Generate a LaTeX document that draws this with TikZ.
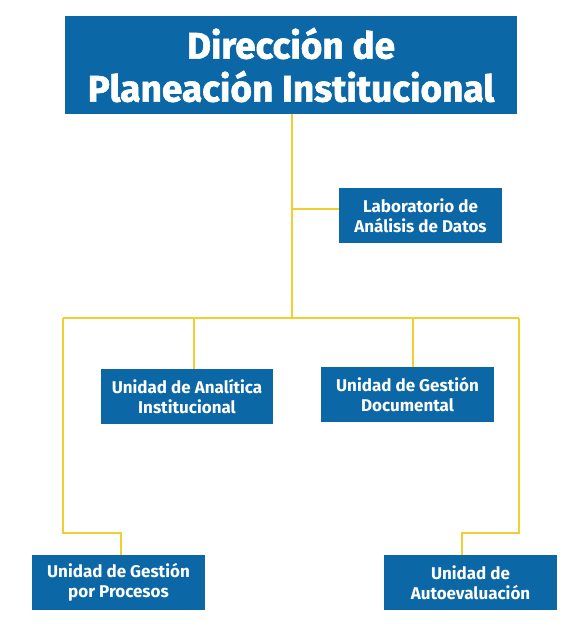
\documentclass[tikz,border=0pt]{standalone}
\usepackage{fontspec}
\setmainfont{Fira Sans}
\newfontfamily\headfont{Fira Sans}[BoldFeatures={FakeBold=1.6}]
\usepackage{tikz}
\definecolor{colB}{HTML}{0B67A5}
\definecolor{colY}{HTML}{F2CE2E}
\tikzstyle{unit}=[rectangle, fill=colB, text=white, font=\bfseries\fontsize{17}{20}\selectfont, align=center, inner sep=0pt, minimum height=55pt]
\tikzstyle{head}=[unit, font=\headfont\bfseries\fontsize{37}{43}\selectfont, minimum width=452pt, minimum height=98pt]
\tikzstyle{link}=[line width=1.5pt, colY]

\begin{document}
\begin{tikzpicture}[x=1pt, y=-1pt]
			\useasboundingbox (0,0) rectangle (586,636);
			\node[head] (dir) at (291, 65) {Dirección de\\Planeación Institucional};
			\node[unit, minimum width=163pt] (lab) at (420.5, 215.5) {Laboratorio de\\Análisis de Datos};
			\node[unit, minimum width=172pt] (ana) at (187, 396.5) {Unidad de Analítica\\Institucional};
			\node[unit, minimum width=173pt] (doc) at (407.5, 394.5) {Unidad de Gestión\\Documental};
			\node[unit, minimum width=173pt] (proc) at (118.5, 582.5) {Unidad de Gestión\\por Procesos};
			\node[unit, minimum width=173pt] (auto) at (470.5, 582.5) {Unidad de\\Autoevaluación};
			\coordinate (bar) at (292, 318);
			\coordinate (barL) at (63, 318);
			\coordinate (barR) at (519, 318);
			\coordinate (labT) at (292, 209);
			\coordinate (anaT) at (194, 318);
			\coordinate (docT) at (413, 318);
			\coordinate (stepL) at (63, 533);
			\coordinate (stepR) at (519, 533);
			\coordinate (procT) at (121, 533);
			\coordinate (autoT) at (462, 533);
			\draw[link] (dir.south -| bar)--(bar) (labT)--(labT -| lab.west) (barL)--(barR);
			\draw[link] (anaT)--(anaT |- ana.north) (docT)--(docT |- doc.north);
			\draw[link] (barL)--(stepL)--(procT)--(procT |- proc.north)  (barR)--(stepR)--(autoT)--(autoT |- auto.north);
		\end{tikzpicture}
\end{document}
